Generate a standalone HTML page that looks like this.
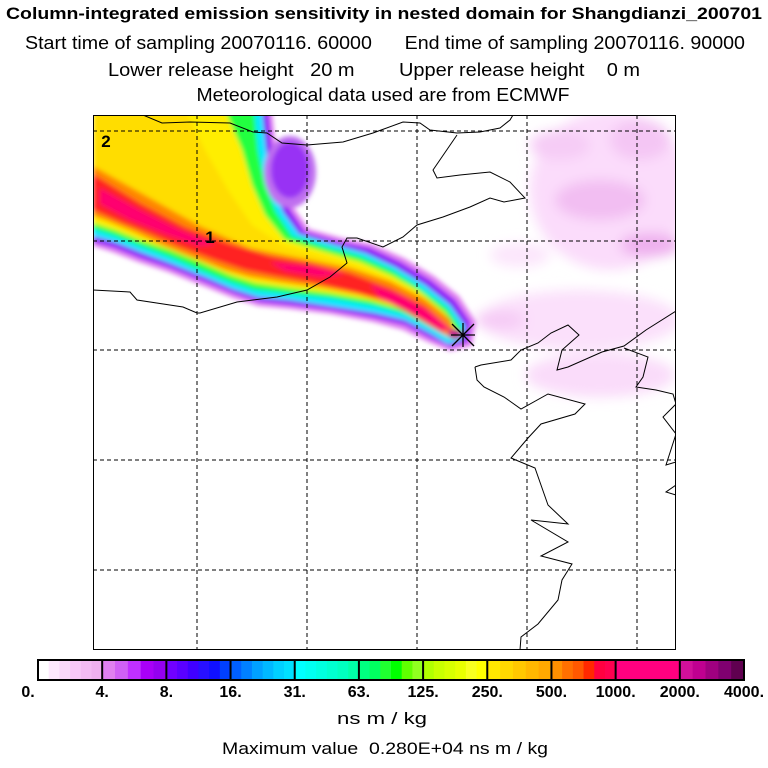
<!DOCTYPE html>
<html><head><meta charset="utf-8"><style>
html,body{margin:0;padding:0;background:#fff;width:768px;height:768px;overflow:hidden}
svg{display:block;font-family:"Liberation Sans",sans-serif}
</style></head><body>
<svg id="chart" width="768" height="768" viewBox="0 0 768 768" xmlns="http://www.w3.org/2000/svg">
<defs>
<filter id="blur" x="-10%" y="-10%" width="120%" height="120%"><feGaussianBlur stdDeviation="2.5"/></filter>
<filter id="blur2" x="-30%" y="-30%" width="160%" height="160%"><feGaussianBlur stdDeviation="6"/></filter>
<clipPath id="frameclip"><rect x="93" y="115" width="583" height="535"/></clipPath>
</defs>
<g text-anchor="middle" fill="#000" xml:space="preserve">
<text x="384" y="19" font-size="17" font-weight="bold" textLength="756" lengthAdjust="spacingAndGlyphs">Column-integrated emission sensitivity in nested domain for Shangdianzi_200701</text>
<text x="385" y="49" font-size="18" textLength="720" lengthAdjust="spacingAndGlyphs" xml:space="preserve">Start time of sampling 20070116. 60000      End time of sampling 20070116. 90000</text>
<text x="374" y="76" font-size="18" textLength="532" lengthAdjust="spacingAndGlyphs" xml:space="preserve">Lower release height   20 m        Upper release height    0 m</text>
<text x="383" y="101" font-size="18" textLength="373" lengthAdjust="spacingAndGlyphs">Meteorological data used are from ECMWF</text>
</g>
<g clip-path="url(#frameclip)">
<g filter="url(#blur2)">
<ellipse cx="610" cy="190" rx="80" ry="80" fill="#fbdcfb"/>
<ellipse cx="600" cy="200" rx="45" ry="20" fill="#f2bef2"/>
<ellipse cx="650" cy="245" rx="30" ry="12" fill="#eeb0ee"/>
<ellipse cx="560" cy="145" rx="30" ry="15" fill="#f6ccf6"/>
<ellipse cx="640" cy="140" rx="30" ry="20" fill="#f4c6f4"/>
<ellipse cx="580" cy="320" rx="100" ry="30" fill="#fbe0fb"/>
<ellipse cx="600" cy="375" rx="75" ry="22" fill="#fadcfa"/>
<ellipse cx="520" cy="255" rx="30" ry="12" fill="#fce6fc"/>
<ellipse cx="500" cy="320" rx="25" ry="10" fill="#f6ccf6"/>
</g>
<g filter="url(#blur)">
<polygon fill="#e080f0" points="93,110 272,110 276,150 284,185 294,208 309,229 342,238 372,244 404,258 434,276 459,296 476,322 472,346 450,351 428,342 403,330 373,322 330,314 290,309 258,306 233,298 203,286 168,272 138,262 112,252 93,246"/>
<polygon fill="#8a00f8" points="93,110 268,110 272,150 280,185 290,210 305,232 340,242 370,248 400,262 430,280 455,300 470,322 468,342 450,347 430,338 405,325 375,318 330,310 290,305 260,302 235,294 205,282 170,268 140,258 115,248 93,242"/>
<polygon fill="#00e8ff" points="93,110 262,110 266,150 273,185 283,212 299,234 335,245 365,253 395,267 425,285 450,305 465,326 462,340 448,344 430,333 405,320 375,313 330,306 290,300 258,297 233,289 205,277 170,263 140,252 115,242 93,236"/>
<polygon fill="#20ff40" points="93,110 254,110 258,150 265,185 276,212 292,236 330,248 360,256 392,270 420,288 447,308 462,330 455,340 432,328 405,314 375,306 330,298 290,294 255,290 230,282 200,270 170,257 140,246 115,236 93,229"/>
<polygon fill="#ffee00" points="93,110 225,110 242,150 252,185 265,215 285,240 325,252 360,262 392,276 420,292 445,313 458,333 450,338 430,324 405,310 370,300 330,293 290,288 255,283 230,275 200,262 170,250 140,240 115,230 93,223"/>
<polygon fill="#ffdd00" points="93,110 185,110 205,150 228,190 252,225 282,245 320,256 355,266 390,280 420,296 445,316 455,333 440,330 405,306 360,294 300,286 240,274 180,254 130,232 93,215"/>
<polygon fill="#ff8800" points="93,166 150,198 200,226 250,248 300,258 350,268 390,281 425,299 450,319 456,335 445,335 420,320 395,305 360,295 320,287 280,282 250,277 225,270 195,258 165,246 135,232 110,222 93,216"/>
<polygon fill="#ff2020" points="93,174 140,203 185,227 230,244 270,256 310,263 350,273 390,288 425,306 452,330 440,331 415,316 390,302 355,292 310,282 275,276 245,270 215,260 180,247 150,234 120,222 93,210"/>
<polygon fill="#ff0070" points="100,188 140,210 180,230 215,244 200,246 165,234 130,220 100,204"/>
<polygon fill="#ff0070" points="270,262 310,266 345,274 320,277 285,271"/>
<polygon fill="#ff0070" points="370,284 400,295 430,312 452,330 438,330 410,314 380,298"/>
<ellipse cx="290" cy="172" rx="26" ry="36" fill="#c070f0"/>
<ellipse cx="290" cy="170" rx="19" ry="28" fill="#9830f4"/>
<ellipse cx="455" cy="334" rx="7" ry="5" fill="#c01090"/>
</g>
</g>
<g fill="none" stroke="#000" stroke-width="1" clip-path="url(#frameclip)">
<polyline points="143,115 162,123 190,122 230,123 253,132 267,133 282,143 307,145 343,142 373,133 403,122 420,123 430,130 457,133 480,132 500,128 510,120 513,115"/>
<polyline points="457,135 433,170 437,178 460,175 490,172 510,182 525,198 504,202 490,198 470,207 443,217 417,225 403,237 383,247 357,238 347,238 342,247 347,263 330,277 307,290 277,297 237,302 200,313 197,313 183,307 137,300 130,292 93,290"/>
<polyline points="475,367 481,365 511,360 521,350 538,343 551,333 568,325 579,335 562,350 557,370 568,367 602,352 624,346 646,330 676,311"/>
<polyline points="475,367 477,380 484,387 504,397 521,409 548,394 585,404 575,414 541,424 528,438 511,458 535,468 548,505 568,524 531,520 568,542 541,556 572,564 562,580 558,600 538,624 521,637 520,650"/>
<polyline points="624,348 648,357 643,377 636,387 656,390 673,394 676,404 663,417 676,434 666,465 676,462"/>
<polyline points="676,485 666,492 676,495"/>
</g>
<g stroke="#000" stroke-width="1" stroke-dasharray="4,3">
<line x1="197" y1="115" x2="197" y2="650"/><line x1="307" y1="115" x2="307" y2="650"/><line x1="417" y1="115" x2="417" y2="650"/><line x1="527" y1="115" x2="527" y2="650"/><line x1="637" y1="115" x2="637" y2="650"/>
<line x1="93" y1="131" x2="676" y2="131"/><line x1="93" y1="241" x2="676" y2="241"/><line x1="93" y1="350" x2="676" y2="350"/><line x1="93" y1="460" x2="676" y2="460"/><line x1="93" y1="570" x2="676" y2="570"/>
</g>
<rect x="93.5" y="115.5" width="582" height="534" fill="none" stroke="#000" stroke-width="1"/>
<text x="210" y="243" font-size="17" font-weight="bold" text-anchor="middle">1</text>
<text x="106" y="147" font-size="17" font-weight="bold" text-anchor="middle">2</text>
<g stroke="#000" stroke-width="1.3">
<line x1="451" y1="335" x2="475" y2="335"/><line x1="463" y1="323" x2="463" y2="347"/>
<line x1="452" y1="324" x2="474" y2="346"/><line x1="452" y1="346" x2="474" y2="324"/>
</g>
<g id="colorbar"></g>
<text x="382" y="724" font-size="17" text-anchor="middle" textLength="90" lengthAdjust="spacingAndGlyphs">ns m / kg</text>
<text x="385" y="754" font-size="17" text-anchor="middle" textLength="326" lengthAdjust="spacingAndGlyphs" xml:space="preserve">Maximum value  0.280E+04 ns m / kg</text>
</svg>
<script>
const tickLabels = ["0.","4.","8.","16.","31.","63.","125.","250.","500.","1000.","2000.","4000."];
const segmentColors = [
 ["#ffffff","#fde8fd","#fad8fa","#f7c8f7","#f3baf3","#efb0ef"],
 ["#e080f0","#d060f5","#c030ff","#a800f8","#9400f0"],
 ["#7000ff","#5a00ff","#4000ff","#2810ff","#1010ff","#0040ff"],
 ["#0060ff","#0080ff","#00a0ff","#00b8ff","#00d0ff","#00e0ff"],
 ["#00ffff","#00fff0","#00ffe0","#00ffd0","#00ffc0","#00ffa8"],
 ["#00ff80","#00ff60","#20ff30","#00ff00","#60ff00","#90ff20"],
 ["#b0ff00","#c8ff00","#d8ff00","#e8ff00","#f8ff20","#ffff00"],
 ["#ffe800","#ffd800","#ffc800","#ffb800","#ffa800"],
 ["#ff9000","#ff7000","#ff5800","#ff2800","#ff0040","#ff0050"],
 ["#ff0080","#ff0080","#ff0080","#ff0080"],
 ["#d0109a","#c00090","#a00080","#800070","#600050"]
];
const ns = "http://www.w3.org/2000/svg";
const cb = document.getElementById("colorbar");
const x0 = 38, x1 = 744, y0 = 660, h = 20;
const segW = (x1 - x0) / segmentColors.length;
function segX(i){ return x0 + i * segW; }
segmentColors.forEach((cols, i) => {
  const w = segW / cols.length;
  cols.forEach((c, j) => {
    const r = document.createElementNS(ns, "rect");
    
    
    r.setAttribute("x", segX(i) + j * w);
    r.setAttribute("y", y0);
    r.setAttribute("width", w + 0.5);
    r.setAttribute("height", h);
    r.setAttribute("fill", c);
    cb.appendChild(r);
  });
});
for (let i = 0; i <= segmentColors.length; i++) {
  const l = document.createElementNS(ns, "line");
  
  
  l.setAttribute("x1", segX(i)); l.setAttribute("x2", segX(i));
  l.setAttribute("y1", y0); l.setAttribute("y2", y0 + h);
  l.setAttribute("stroke", "#000"); l.setAttribute("stroke-width", "2");
  cb.appendChild(l);
}
const frame = document.createElementNS(ns, "rect");


frame.setAttribute("x", x0); frame.setAttribute("y", y0);
frame.setAttribute("width", x1 - x0); frame.setAttribute("height", h);
frame.setAttribute("fill", "none"); frame.setAttribute("stroke", "#000"); frame.setAttribute("stroke-width", "2");
cb.appendChild(frame);
tickLabels.forEach((t, i) => {
  const tx = document.createElementNS(ns, "text");
  
  
  let x = segX(i);
  if (i === 0) x = 28;
  tx.setAttribute("x", x);
  tx.setAttribute("y", 697);
  tx.setAttribute("font-size", "16");
  tx.setAttribute("font-weight", "bold");
  tx.setAttribute("text-anchor", "middle");
  tx.textContent = t;
  cb.appendChild(tx);
});
</script>
</body></html>
